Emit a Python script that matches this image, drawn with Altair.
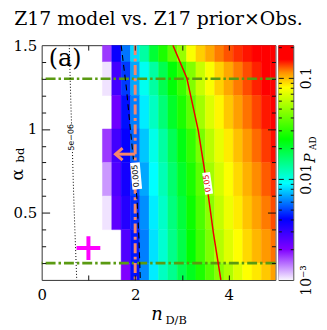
import math
import altair as alt
import pandas as pd

SERIF = "DejaVu Serif"
SANS = "DejaVu Sans"
W, H, CBW = 236, 237, 15

# ---------------- data ----------------
x_cols = [1.4, 1.6, 1.8, 2.0, 2.2, 2.4, 2.6, 2.8, 3.0, 3.2, 3.4, 3.6, 3.8, 4.0, 4.2, 4.4, 4.6, 4.8, 5.0]
alpha_rows = [1.5, 1.3, 1.1, 0.9, 0.7, 0.5, 0.3, 0.1]
p_alpha_15 = [0.0017, 0.0038, 0.0058, 0.0080, 0.013, 0.020, 0.028, 0.038, 0.050, 0.078, 0.093, 0.105, 0.118, 0.128, 0.138, 0.146, 0.160, 0.175, 0.190]
p_alpha_13 = [0.00105, 0.0028, 0.0048, 0.0068, 0.0095, 0.013, 0.018, 0.024, 0.032, 0.045, 0.062, 0.078, 0.092, 0.105, 0.118, 0.130, 0.142, 0.155, 0.170]
p_alpha_11 = [None, 0.0022, 0.0042, 0.0060, 0.0085, 0.0115, 0.0155, 0.021, 0.028, 0.038, 0.052, 0.068, 0.082, 0.095, 0.108, 0.120, 0.132, 0.145, 0.158]
p_alpha_09 = [0.0017, 0.0028, 0.0039, 0.0055, 0.0075, 0.0098, 0.013, 0.0175, 0.023, 0.031, 0.043, 0.058, 0.072, 0.085, 0.097, 0.110, 0.122, 0.135, 0.148]
p_alpha_07 = [0.0013, 0.0026, 0.0036, 0.0050, 0.0068, 0.0090, 0.012, 0.016, 0.021, 0.028, 0.038, 0.052, 0.066, 0.079, 0.090, 0.102, 0.114, 0.126, 0.138]
p_alpha_05 = [0.00105, 0.0024, 0.0033, 0.0046, 0.0063, 0.0085, 0.0112, 0.015, 0.0195, 0.026, 0.035, 0.047, 0.061, 0.074, 0.085, 0.096, 0.107, 0.118, 0.130]
p_alpha_03 = [None, None, 0.0026, 0.0043, 0.0060, 0.0082, 0.0108, 0.0143, 0.0185, 0.0245, 0.033, 0.044, 0.057, 0.069, 0.080, 0.090, 0.100, 0.110, 0.120]
p_alpha_01 = [None, None, 0.0020, 0.0042, 0.0062, 0.0085, 0.0115, 0.0140, 0.018, 0.022, 0.028, 0.036, 0.046, 0.055, 0.068, 0.080, 0.086, 0.095, 0.107]
p_rows = [p_alpha_15, p_alpha_13, p_alpha_11, p_alpha_09, p_alpha_07, p_alpha_05, p_alpha_03, p_alpha_01]

# contours
c5e06_x = [0.59, 0.61, 0.63, 0.655, 0.675, 0.71, 0.75]
c5e06_y = [1.5, 1.3, 1.1, 0.9, 0.69, 0.4, 0.1]
c005_x = [1.70, 1.81, 1.90, 1.97, 2.04, 2.08, 2.11]
c005_y = [1.5, 1.25, 0.99, 0.80, 0.58, 0.35, 0.1]
c05_x = [2.807, 3.104, 3.350, 3.529, 3.673, 3.833]
c05_y = [1.5, 1.305, 0.990, 0.676, 0.381, 0.1]

label_text = ["5e\u221206", "0.005", "0.05"]
label_x = [0.64, 2.02, 3.55]
label_y = [0.95, 0.72, 0.676]
label_angle = [268, 265, 262]
label_color = ["black", "black", "#e00000"]
label_len = [25, 27, 22]

green_y = [1.3, 0.2]
orange_x = [2.0]
arrow_x = [2.0, 1.58]
arrow_y = [0.85]
head_x = [1.73, 1.58, 1.73]
head_y = [0.886, 0.85, 0.814]
plus_x = [1.0]
plus_y = [0.29]

x_labels = [0, 2, 4]
x_major = [1, 2, 3, 4]
y_labels = [0.5, 1, 1.5]
y_major = [0.5, 1.0]
y_minor = [0.2, 0.3, 0.4, 0.6, 0.7, 0.8, 0.9, 1.1, 1.2, 1.3, 1.4]

cb_stop_values = [0.001, 0.002, 0.004, 0.009, 0.0247, 0.080, 0.113, 0.152, 0.21]
cb_stop_colors = ["#f8f4ff", "#8000ff", "#0000ff", "#00ffff", "#00ff00", "#ffff00", "#ff9000", "#ff0000", "#ff0000"]
cb_labels = [0.001, 0.01, 0.1]
cb_major = [0.01, 0.1]
cb_minor = [0.002, 0.003, 0.004, 0.005, 0.006, 0.007, 0.008, 0.009,
            0.02, 0.03, 0.04, 0.05, 0.06, 0.07, 0.08, 0.09, 0.2]

# ---------------- tables ----------------
cells = []
for a, vals in zip(alpha_rows, p_rows):
    for x, p in zip(x_cols, vals):
        if p is not None:
            cells.append({"x": x, "a": a, "p": p})
heat_df = pd.DataFrame(cells)

def line_df(xs, ys):
    return pd.DataFrame({"x": xs, "a": ys, "o": list(range(len(xs)))})

xscale = alt.Scale(domain=[0, 5], nice=False, zero=False)
yscale = alt.Scale(domain=[0.1, 1.5], nice=False, zero=False)
cscale = alt.Scale(type="log", domain=cb_stop_values, range=cb_stop_colors, interpolate="rgb")
CB_MIN, CB_MAX = cb_stop_values[0], cb_stop_values[-1]
cbscale = alt.Scale(type="log", domain=[CB_MIN, CB_MAX], nice=False)
cbxscale = alt.Scale(domain=[0, 1], nice=False, zero=False)

# ---------------- main panel ----------------
heat = alt.Chart(heat_df).transform_calculate(
    x0="datum.x - 0.1", x1="datum.x + 0.1", a0="datum.a - 0.1", a1="datum.a + 0.1"
).mark_rect(clip=True, strokeWidth=0.5).encode(
    x=alt.X("x0:Q", scale=xscale, axis=alt.Axis(
        orient="bottom", values=x_labels, format="~g", ticks=False, domain=False, grid=False,
        title=None, labelFont=SERIF, labelFontSize=15, labelPadding=8, labelFlush=False,
        labelColor="black", labelOverlap=False)),
    x2="x1",
    y=alt.Y("a0:Q", scale=yscale, axis=alt.Axis(
        orient="left", values=y_labels, format="~g", ticks=False, domain=False, grid=False,
        title=None, labelFont=SERIF, labelFontSize=15, labelPadding=5, labelFlush=False,
        labelColor="black", labelOverlap=False)),
    y2="a1",
    color=alt.Color("p:Q", scale=cscale, legend=None),
    stroke=alt.Stroke("p:Q", scale=cscale, legend=None),
)

anchor_df = pd.DataFrame({"x": [0.0], "a": [0.1]})

def x_ticks(orient, vals, size):
    return alt.Chart(anchor_df).mark_point(opacity=0).encode(
        x=alt.X("x:Q", scale=xscale, axis=alt.Axis(
            orient=orient, values=vals, tickSize=size, offset=-size, labels=False,
            domain=False, grid=False, title=None, ticks=True, tickColor="#111",
            tickWidth=1, zindex=3, minExtent=0)),
        y=alt.Y("a:Q", scale=yscale, axis=None))

def y_ticks(orient, vals, size):
    return alt.Chart(anchor_df).mark_point(opacity=0).encode(
        x=alt.X("x:Q", scale=xscale, axis=None),
        y=alt.Y("a:Q", scale=yscale, axis=alt.Axis(
            orient=orient, values=vals, tickSize=size, offset=-size, labels=False,
            domain=False, grid=False, title=None, ticks=True, tickColor="#111",
            tickWidth=1, zindex=3, minExtent=0)))

def contour(xs, ys, color, dash, width):
    kw = dict(color=color, strokeWidth=width, clip=True)
    if dash:
        kw["strokeDash"] = dash
    return alt.Chart(line_df(xs, ys)).mark_line(**kw).encode(
        x=alt.X("x:Q", scale=xscale, axis=None),
        y=alt.Y("a:Q", scale=yscale, axis=None),
        order="o:Q")

green = alt.Chart(pd.DataFrame({"a": green_y})).mark_rule(
    color="#5a9a12", strokeWidth=2.6, strokeDash=[10, 3, 2.5, 3]).encode(
    y=alt.Y("a:Q", scale=yscale, axis=None))

orange = alt.Chart(pd.DataFrame({"x": orange_x})).mark_rule(
    color="#f8866a", strokeWidth=3, strokeDash=[10, 3.5, 3, 3.5]).encode(
    x=alt.X("x:Q", scale=xscale, axis=None))

arrow = alt.Chart(pd.DataFrame({"x": [arrow_x[0]], "x1": [arrow_x[1]], "a": arrow_y})).mark_rule(
    color="#f8866a", strokeWidth=3).encode(
    x=alt.X("x:Q", scale=xscale, axis=None), x2="x1",
    y=alt.Y("a:Q", scale=yscale, axis=None))
head = alt.Chart(line_df(head_x, head_y)).mark_line(
    color="#f8866a", strokeWidth=3).encode(
    x=alt.X("x:Q", scale=xscale, axis=None),
    y=alt.Y("a:Q", scale=yscale, axis=None), order="o:Q")

plus = alt.Chart(pd.DataFrame({"x": plus_x, "a": plus_y})).mark_point(
    shape="M-1,0L1,0M0,-1L0,1", size=576, filled=False, strokeWidth=4,
    color="#ff00ff", opacity=1).encode(
    x=alt.X("x:Q", scale=xscale, axis=None),
    y=alt.Y("a:Q", scale=yscale, axis=None))

lab_df = pd.DataFrame({"t": label_text, "x": label_x, "a": label_y, "ang": label_angle,
                       "c": label_color, "box": [v - 270 + 360 for v in label_angle],
                       "s": [L * L for L in label_len]})
label_boxes = alt.Chart(lab_df).mark_point(
    shape="M-0.36,-1L0.36,-1L0.36,1L-0.36,1Z", filled=True, fill="white",
    opacity=1, strokeWidth=0).encode(
    x=alt.X("x:Q", scale=xscale, axis=None),
    y=alt.Y("a:Q", scale=yscale, axis=None),
    size=alt.Size("s:Q", scale=None),
    angle=alt.Angle("box:Q", scale=None))
label_texts = alt.Chart(lab_df).mark_text(
    font=SANS, fontSize=8, align="center", baseline="middle").encode(
    x=alt.X("x:Q", scale=xscale, axis=None),
    y=alt.Y("a:Q", scale=yscale, axis=None),
    text="t:N",
    angle=alt.Angle("ang:Q", scale=None),
    color=alt.Color("c:N", scale=None))

panel_tag = alt.Chart(pd.DataFrame({"t": ["(a)"], "x": [0.5], "a": [1.42]})).mark_text(
    font=SERIF, fontSize=24, align="center", baseline="middle", color="black").encode(
    x=alt.X("x:Q", scale=xscale, axis=None),
    y=alt.Y("a:Q", scale=yscale, axis=None), text="t:N")

one = pd.DataFrame({"k": [0]})
def ptext(txt, px, py, size, style="normal", angle=0, font=SERIF, align="center"):
    return alt.Chart(one).mark_text(
        text=txt, font=font, fontSize=size, fontStyle=style, angle=angle,
        align=align, baseline="middle", color="black").encode(
        x=alt.value(px), y=alt.value(py))

x_title_n = ptext("n", 116.5, 272.5, 18, style="italic")
x_title_sub = ptext("D/B", 125, 278, 11.5, align="left")
y_title_a = ptext("\u03b1", -24, 131, 17, angle=270)
y_title_sub = ptext("bd", -20.5, 111, 11.5, angle=270)

main = alt.layer(
    heat, green, orange, contour(c5e06_x, c5e06_y, "black", [1, 2], 1),
    contour(c005_x, c005_y, "black", [6, 4], 1.1),
    contour(c05_x, c05_y, "#ee0000", None, 1.5),
    arrow, head, plus, label_boxes, label_texts, panel_tag,
    x_title_n, x_title_sub, y_title_a, y_title_sub,
    x_ticks("bottom", x_major, 5), x_ticks("top", x_major, 5),
    y_ticks("left", y_major, 8), y_ticks("left", y_minor, 4),
    y_ticks("right", y_major, 8), y_ticks("right", y_minor, 4),
).resolve_axis(x="independent", y="independent").properties(
    width=W, height=H,
    title=alt.TitleParams("Z17 model vs. Z17 prior\u00d7Obs.", font=SERIF, fontSize=19,
                          fontWeight="normal", color="black", offset=9, anchor="middle"))

# ---------------- colorbar panel ----------------
lo_log, hi_log = math.log10(CB_MIN), math.log10(CB_MAX)
stops = [alt.GradientStop(color=c, offset=(math.log10(v) - lo_log) / (hi_log - lo_log))
         for v, c in zip(cb_stop_values, cb_stop_colors)]
cb_df = pd.DataFrame({"lo": [CB_MIN], "hi": [CB_MAX], "l": [0.0], "r": [1.0]})
cb_rect = alt.Chart(cb_df).mark_rect(
    fill=alt.Gradient(gradient="linear", stops=stops, x1=0, x2=0, y1=1, y2=0)).encode(
    x=alt.X("l:Q", scale=cbxscale, axis=None), x2="r",
    y=alt.Y("lo:Q", scale=cbscale, axis=alt.Axis(
        orient="right", values=cb_labels, ticks=False, domain=False, grid=False, title=None,
        labelExpr="datum.value < 0.005 ? '10\u207b\u00b3' : (datum.value < 0.05 ? '0.01' : '0.1')",
        labelAngle=270, labelAlign="center", labelBaseline="top", labelPadding=6,
        labelFont=SERIF, labelFontSize=14, labelColor="black", labelFlush=False,
        labelOverlap=False, minExtent=0)),
    y2="hi")

cb_anchor = pd.DataFrame({"v": [CB_MIN], "l": [0.0]})
def cb_ticks(orient, vals, size):
    return alt.Chart(cb_anchor).mark_point(opacity=0).encode(
        x=alt.X("l:Q", scale=cbxscale, axis=None),
        y=alt.Y("v:Q", scale=cbscale, axis=alt.Axis(
            orient=orient, values=vals, tickSize=size, offset=-size, labels=False,
            domain=False, grid=False, title=None, ticks=True, tickColor="#111",
            tickWidth=1, zindex=3, minExtent=0)))

cb_title_p = ptext("P", 32.5, 114, 14, style="italic", angle=270)
cb_title_sub = ptext("AD", 35, 99, 9, angle=270)

cbar = alt.layer(
    cb_rect, cb_ticks("left", cb_major, 5), cb_ticks("left", cb_minor, 3),
    cb_ticks("right", cb_major, 5), cb_ticks("right", cb_minor, 3),
    cb_title_p, cb_title_sub,
).resolve_axis(y="independent").properties(width=CBW, height=H)

chart = alt.hconcat(main, cbar, spacing=3, bounds="flush").properties(
    padding={"left": 0, "top": 0, "right": 0, "bottom": 0}
).configure_view(stroke="#333333", strokeWidth=1)

chart.save("out.html", embed_options={"renderer": "svg", "actions": False})
